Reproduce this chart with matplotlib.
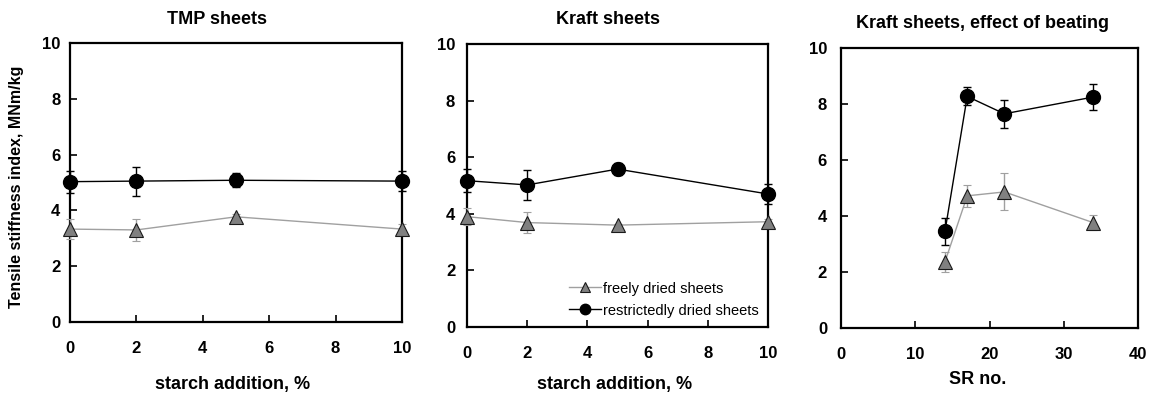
import matplotlib
matplotlib.use("Agg")
import matplotlib.pyplot as plt
from matplotlib.lines import Line2D

plt.rcParams['font.family'] = ['Liberation Sans', 'DejaVu Sans']

# Data
starch = [0, 2, 5, 10]
tmp_free = [3.33, 3.30, 3.77, 3.33]
tmp_free_err = [0.35, 0.38, 0.10, 0.20]
tmp_restr = [5.03, 5.05, 5.08, 5.05]
tmp_restr_err = [0.40, 0.52, 0.25, 0.35]

kraft_free = [3.90, 3.69, 3.60, 3.72]
kraft_free_err = [0.30, 0.37, 0.05, 0.10]
kraft_restr = [5.17, 5.02, 5.58, 4.70]
kraft_restr_err = [0.40, 0.53, 0.22, 0.35]

sr_no = [14, 17, 22, 34]
beat_free = [2.36, 4.72, 4.86, 3.76]
beat_free_err = [0.36, 0.40, 0.66, 0.26]
beat_restr = [3.45, 8.27, 7.65, 8.25]
beat_restr_err = [0.48, 0.32, 0.50, 0.47]

titles = ["TMP sheets", "Kraft sheets", "Kraft sheets, effect of beating"]
xlabels = ["starch addition, %", "starch addition, %", "SR no."]
ylabel = "Tensile stiffness index, MNm/kg"
free_label = "freely dried sheets"
restr_label = "restrictedly dried sheets"

W, H = 1149, 396
fig = plt.figure(figsize=(W / 100, H / 100), dpi=100)

def px_axes(l, t, r, b):
    return fig.add_axes([l / W, 1 - b / H, (r - l) / W, (b - t) / H])

axes = [px_axes(70, 43, 402, 322), px_axes(467, 44, 768, 327), px_axes(841, 48, 1138, 328)]
xs = [starch, starch, sr_no]
frees = [(tmp_free, tmp_free_err), (kraft_free, kraft_free_err), (beat_free, beat_free_err)]
restrs = [(tmp_restr, tmp_restr_err), (kraft_restr, kraft_restr_err), (beat_restr, beat_restr_err)]
xlims = [(0, 10), (0, 10), (0, 40)]
xticks = [[0, 2, 4, 6, 8, 10], [0, 2, 4, 6, 8, 10], [0, 10, 20, 30, 40]]
ypads = [7, 8.5, 10]

free_line = '#a0a0a0'
for i, ax in enumerate(axes):
    x = xs[i]
    fv, fe = frees[i]
    rv, re = restrs[i]
    ax.errorbar(x, fv, yerr=fe, color=free_line, lw=1.0, elinewidth=1.0, capsize=3,
                capthick=1.0, marker='^', ms=10, mfc='#808080', mec='#1a1a1a', mew=0.8,
                zorder=3, clip_on=False)
    ax.errorbar(x, rv, yerr=re, color='black', lw=1.0, elinewidth=1.0, capsize=3,
                capthick=1.0, marker='o', ms=10, mfc='black', mec='black',
                zorder=4, clip_on=False)
    ax.set_xlim(*xlims[i])
    ax.set_ylim(0, 10)
    ax.set_xticks(xticks[i])
    ax.set_yticks([0, 2, 4, 6, 8, 10])
    for s in ax.spines.values():
        s.set_linewidth(1.6)
    ax.tick_params(axis='both', direction='in', length=5, width=1.2, labelsize=12,
                   top=False, right=False)
    ax.tick_params(axis='x', pad=14)
    ax.tick_params(axis='y', pad=ypads[i])
    for lab in ax.get_xticklabels() + ax.get_yticklabels():
        lab.set_fontweight('bold')

fig.text(217 / W, 1 - 20 / H, titles[0], ha='center', va='center', fontsize=13, fontweight='bold')
fig.text(608 / W, 1 - 19 / H, titles[1], ha='center', va='center', fontsize=13, fontweight='bold')
fig.text(983 / W, 1 - 23 / H, titles[2], ha='center', va='center', fontsize=13, fontweight='bold')

fig.text(233 / W, 1 - 384 / H, xlabels[0], ha='center', va='center', fontsize=13, fontweight='bold')
fig.text(615 / W, 1 - 384 / H, xlabels[1], ha='center', va='center', fontsize=13, fontweight='bold')
fig.text(978 / W, 1 - 379 / H, xlabels[2], ha='center', va='center', fontsize=13, fontweight='bold')

fig.text(17 / W, 1 - 187 / H, ylabel, ha='center', va='center', rotation=90, fontsize=11.5, fontweight='bold')

h = [Line2D([], [], color=free_line, lw=1.0, marker='^', ms=7.5, mfc='#808080', mec='#1a1a1a', mew=0.8),
     Line2D([], [], color='black', lw=1.0, marker='o', ms=7.5, mfc='black', mec='black')]
leg = axes[1].legend(h, [free_label, restr_label], loc='lower right', frameon=False,
                     fontsize=10.5, handlelength=2.2, handletextpad=0.15, borderaxespad=0.45,
                     labelspacing=0.55, borderpad=0.2)

fig.savefig("out.png", dpi=100)
